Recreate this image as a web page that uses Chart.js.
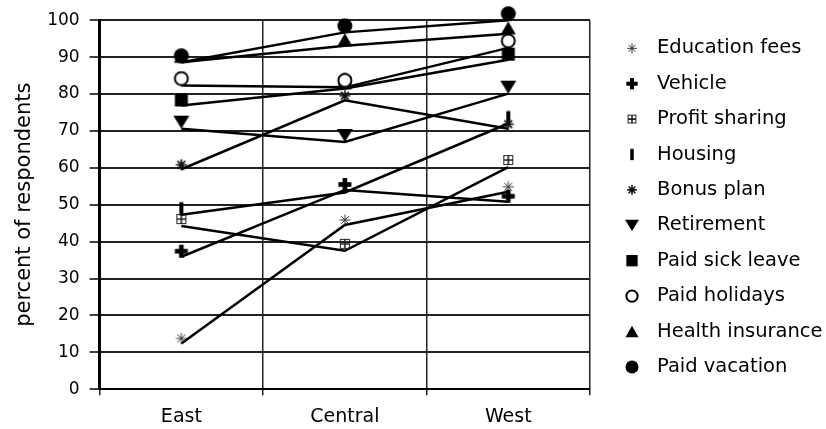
<!DOCTYPE html>
<html>
<head>
<meta charset="utf-8">
<script src="https://cdn.jsdelivr.net/npm/chart.js@4"></script>
<style>
  html, body { margin: 0; background: #fff; }
  #wrap { width: 826px; height: 429px; }
</style>
</head>
<body>
<div id="wrap"><canvas id="chart"></canvas></div>
<script>
const FONT = "'DejaVu Sans', sans-serif";

// categories
const regions = ['East', 'Central', 'West'];

// percent of respondents per region
const educationFees   = [12.4, 44.5, 53.5];
const vehicle         = [35.9, 54.0, 50.8];
const profitSharing   = [44.2, 37.5, 60.2];
const housing         = [47.3, 53.3, 72.0];
const bonusPlan       = [59.6, 78.3, 70.6];
const retirement      = [70.6, 67.0, 80.1];
const paidSickLeave   = [76.9, 81.5, 89.3];
const paidHolidays    = [82.3, 81.8, 92.5];
const healthInsurance = [88.6, 93.1, 96.3];
const paidVacation    = [88.6, 96.7, 100];

const yTicks = [0, 10, 20, 30, 40, 50, 60, 70, 80, 90, 100];

const series = [
  { label: 'Education fees',   data: educationFees,   marker: 'asterisk' },
  { label: 'Vehicle',          data: vehicle,         marker: 'plus' },
  { label: 'Profit sharing',   data: profitSharing,   marker: 'boxcross' },
  { label: 'Housing',          data: housing,         marker: 'bar' },
  { label: 'Bonus plan',       data: bonusPlan,       marker: 'snowflake' },
  { label: 'Retirement',       data: retirement,      marker: 'triDown' },
  { label: 'Paid sick leave',  data: paidSickLeave,   marker: 'square' },
  { label: 'Paid holidays',    data: paidHolidays,    marker: 'ring' },
  { label: 'Health insurance', data: healthInsurance, marker: 'triUp' },
  { label: 'Paid vacation',    data: paidVacation,    marker: 'dot' }
];

// in the print the markers sit just above the line vertex
const LIFT = { asterisk: -5, plus: -5.5, boxcross: -7, bar: -6, snowflake: -4.5,
               triDown: -6.5, square: -5.5, ring: -7, triUp: -6, dot: -6.5 };

function drawMarker(ctx, kind, x, y, s) {
  ctx.save();
  ctx.fillStyle = '#000';
  ctx.strokeStyle = '#000';
  ctx.beginPath();
  switch (kind) {
    case 'asterisk':
    case 'snowflake': {
      const r = 5.5 * s;
      ctx.strokeStyle = kind === 'asterisk' ? '#333' : '#111';
      ctx.lineWidth = kind === 'asterisk' ? 1 : 1.6;
      for (let a = 0; a < 4; a++) {
        const t = a * Math.PI / 4;
        ctx.moveTo(x - r * Math.cos(t), y - r * Math.sin(t));
        ctx.lineTo(x + r * Math.cos(t), y + r * Math.sin(t));
      }
      ctx.stroke();
      break;
    }
    case 'plus':
      ctx.fillRect(x - 2.3 * s, y - 6.5 * s, 4.6 * s, 13 * s);
      ctx.fillRect(x - 6.5 * s, y - 2.3 * s, 13 * s, 4.6 * s);
      break;
    case 'boxcross':
      ctx.strokeStyle = '#222';
      ctx.lineWidth = 1;
      ctx.strokeRect(x - 4.5 * s, y - 4.5 * s, 9 * s, 9 * s);
      ctx.lineWidth = 1.6;
      ctx.moveTo(x, y - 4.5 * s); ctx.lineTo(x, y + 4.5 * s);
      ctx.moveTo(x - 4.5 * s, y); ctx.lineTo(x + 4.5 * s, y);
      ctx.stroke();
      break;
    case 'bar':
      ctx.fillRect(x - 2 * s, y - 6.5 * s, 4 * s, 13 * s);
      break;
    case 'triDown':
      ctx.moveTo(x - 8 * s, y - 6.5 * s);
      ctx.lineTo(x + 8 * s, y - 6.5 * s);
      ctx.lineTo(x, y + 6.5 * s);
      ctx.closePath();
      ctx.fill();
      break;
    case 'triUp':
      ctx.moveTo(x - 7.5 * s, y + 6.5 * s);
      ctx.lineTo(x + 7.5 * s, y + 6.5 * s);
      ctx.lineTo(x, y - 6.5 * s);
      ctx.closePath();
      ctx.fill();
      break;
    case 'square':
      ctx.fillRect(x - 6.5 * s, y - 6.5 * s, 13 * s, 13 * s);
      break;
    case 'ring':
      ctx.arc(x, y, 6.5 * s, 0, Math.PI * 2);
      ctx.fillStyle = '#fff';
      ctx.fill();
      ctx.lineWidth = 2;
      ctx.stroke();
      break;
    case 'dot':
      ctx.arc(x, y, 7.5 * s, 0, Math.PI * 2);
      ctx.fill();
      break;
  }
  ctx.restore();
}

function makeIcon(kind) {
  const c = document.createElement('canvas');
  c.width = 30;
  c.height = 30;
  drawMarker(c.getContext('2d'), kind, 15, 15 + LIFT[kind], 1);
  return c;
}

// legend column to the right of the plot, same order as the series
const sideLegend = {
  id: 'sideLegend',
  afterDraw(chart, args, opts) {
    const ctx = chart.ctx;
    const x = chart.chartArea.right + opts.offset;
    ctx.save();
    ctx.font = `${opts.size}px ${FONT}`;
    ctx.textBaseline = 'middle';
    ctx.fillStyle = '#000';
    series.forEach((s, i) => {
      const y = opts.top + i * opts.step;
      drawMarker(ctx, s.marker, x, y, 0.87);
      ctx.fillText(s.label, x + opts.gap, y);
    });
    ctx.restore();
  }
};

new Chart(document.getElementById('chart'), {
  type: 'line',
  data: {
    labels: regions,
    datasets: series.map((s, i) => ({
      label: s.label,
      data: s.data,
      borderColor: '#000',
      borderWidth: 2.5,
      pointStyle: makeIcon(s.marker),
      pointRadius: 7,
      order: series.length - i,
      clip: false
    }))
  },
  options: {
    responsive: true,
    maintainAspectRatio: false,
    animation: false,
    devicePixelRatio: 1,
    layout: { padding: { left: 4, right: 236, top: 9.5, bottom: -9 } },
    plugins: {
      legend: { display: false },
      tooltip: { enabled: false },
      sideLegend: { offset: 42, gap: 25, top: 48.3, step: 35.4, size: 19.5 }
    },
    scales: {
      x: {
        offset: true,
        ticks: { color: '#000', font: { family: FONT, size: 19 }, padding: 10 },
        grid: { offset: true, color: '#222', lineWidth: 1.5, tickLength: 6 },
        border: { color: '#000', width: 2 }
      },
      y: {
        min: 0,
        max: 100,
        afterBuildTicks: scale => { scale.ticks = yTicks.map(v => ({ value: v })); },
        ticks: { color: '#000', font: { family: FONT, size: 17 }, padding: 10 },
        grid: { color: '#222', lineWidth: 2, tickLength: 10, tickColor: '#000', tickWidth: 1.5 },
        border: { color: '#000', width: 3 },
        title: {
          display: true,
          text: 'percent of respondents',
          color: '#000',
          font: { family: FONT, size: 21 },
          padding: { top: 8, bottom: 0 }
        }
      }
    }
  },
  plugins: [sideLegend]
});
</script>
</body>
</html>
